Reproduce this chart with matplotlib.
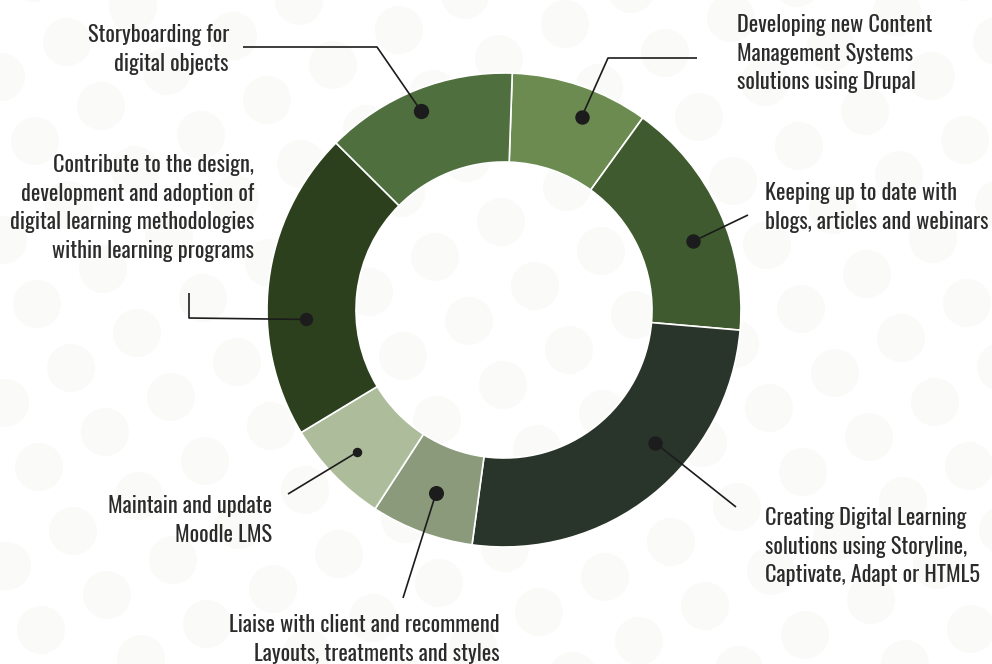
import numpy as np
import matplotlib
matplotlib.use("Agg")
import matplotlib.pyplot as plt
from matplotlib.patches import Circle

# Dados do gráfico (sentido horário a partir do topo)
categorias = [
    "Developing new Content\nManagement Systems\nsolutions using Drupal",
    "Keeping up to date with\nblogs, articles and webinars",
    "Creating Digital Learning\nsolutions using Storyline,\nCaptivate, Adapt or HTML5",
    "Liaise with client and recommend\nLayouts, treatments and styles",
    "Maintain and update\nMoodle LMS",
    "Contribute to the design,\ndevelopment and adoption of\ndigital learning methodologies\nwithin learning programs",
    "Storyboarding for\ndigital objects",
]
valores = [9.4, 16.4, 25.8, 7.0, 7.2, 21.1, 13.1]
cores = ["#6b8b51", "#3f5a2f", "#29352a", "#8b9a7b", "#adbd9c", "#2c401e", "#4f6f3f"]

# Layout (pixels, y de cima para baixo)
L, A = 992, 664
CENTRO = (504, 310)
RAIO = 237
LARGURA = 89

# deslocamento angular do ponto em relação ao meio da fatia, raio do ponto, tamanho
desloc_ang = [-3, -4.7, 10, 0, 0, 9.6, 1]
raio_ponto = [208, 201, 201, 195, 204, 198, 215]
tam_ponto = [9.4, 9.4, 9.4, 9.8, 5.8, 8.6, 10]
# pontos da linha guia depois do ponto
guias = [
    [(608, 58), (697, 58)],
    [(748, 215)],
    [(736, 507)],
    [(403, 598)],
    [(288, 494)],
    [(189, 318), (189, 293)],
    [(377, 47), (243, 47)],
]
# posição do texto: x, linha de base da primeira linha, alinhamento
pos_texto = [
    (737, 32, "left"),
    (765, 200, "left"),
    (765, 525, "left"),
    (500, 632, "right"),
    (272, 513, "right"),
    (254, 172, "right"),
    (229, 42, "right"),
]
ENTRELINHA = 28.6


def py(y):
    return A - y


fig = plt.figure(figsize=(L / 100, A / 100), dpi=100)
fig.patch.set_facecolor("white")
ax = fig.add_axes([0, 0, 1, 1])

# Bolinhas do fundo (padrão decorativo em grade inclinada)
for i in range(-12, 14):
    for j in range(-10, 10):
        x = 769 + 100 * i + 34 * j
        y = 408 + 29 * i + 64 * j
        if -40 < x < L + 40 and -40 < y < A + 40:
            ax.add_patch(Circle((x, py(y)), 24, color="#fafaf8", lw=0, zorder=0))

cx, cy = CENTRO[0], py(CENTRO[1])
fatias, _ = ax.pie(valores, colors=cores, startangle=88, counterclock=False,
                   radius=RAIO, center=(cx, cy),
                   wedgeprops=dict(width=LARGURA, edgecolor="white", linewidth=1.2))
for f in fatias:
    f.set_zorder(2)

for k, fatia in enumerate(fatias):
    meio = (fatia.theta1 + fatia.theta2) / 2 + desloc_ang[k]
    px = cx + raio_ponto[k] * np.cos(np.radians(meio))
    pyy = cy + raio_ponto[k] * np.sin(np.radians(meio))
    xs = [px] + [p[0] for p in guias[k]]
    ys = [pyy] + [py(p[1]) for p in guias[k]]
    ax.plot(xs, ys, color="#1c1c1c", lw=1.2, zorder=3, solid_capstyle="butt")
    ax.plot(px, pyy, "o", color="#1c1c1c", ms=tam_ponto[k], zorder=4)

    tx, ty, ha = pos_texto[k]
    for n, linha in enumerate(categorias[k].split("\n")):
        ax.text(tx, py(ty + n * ENTRELINHA), linha, ha=ha, va="baseline",
                fontsize=16, family="Oswald", color="#2b2b2b", zorder=5)

ax.set_xlim(0, L)
ax.set_ylim(0, A)
ax.axis("off")

fig.savefig("out.png", dpi=100)
